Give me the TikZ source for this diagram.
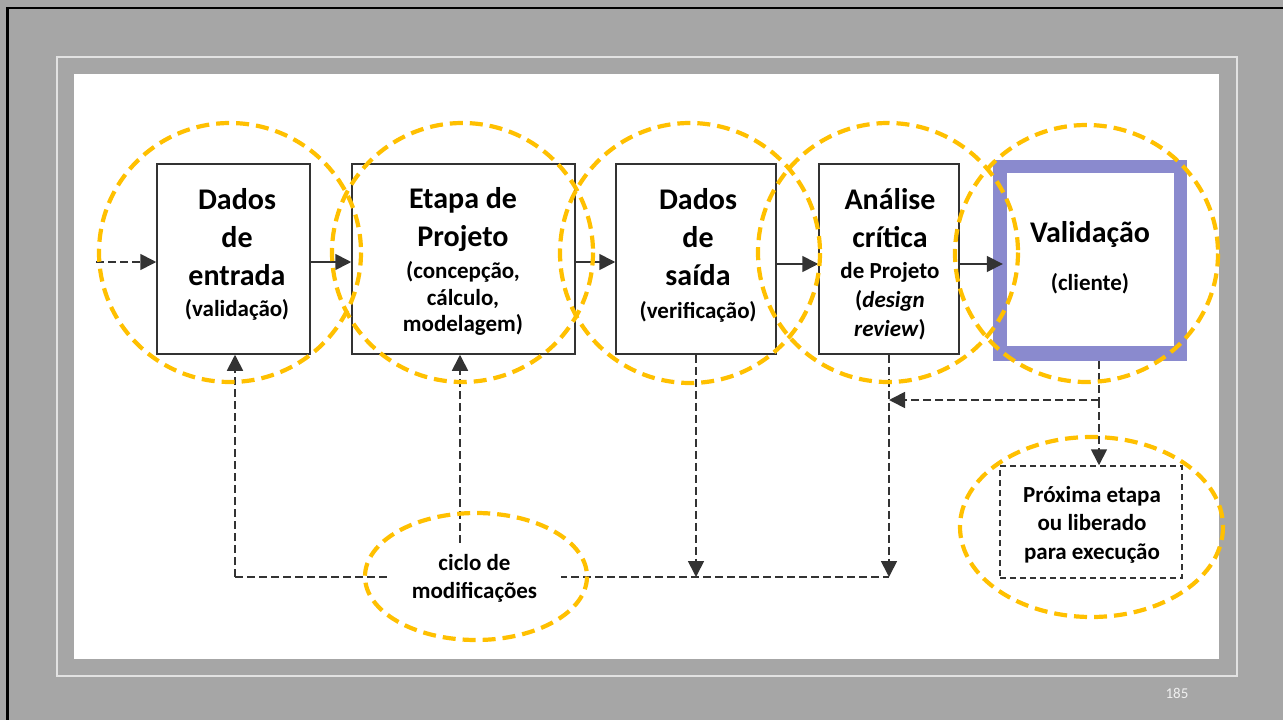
\documentclass[tikz,border=0pt]{standalone}
\usepackage{fontspec}
\setmainfont{Carlito}
\usetikzlibrary{arrows.meta,calc}
\definecolor{slidegray}{HTML}{A6A6A6}
\definecolor{ringcol}{HTML}{FFC000}
\definecolor{lav}{RGB}{138,138,206}
\definecolor{boxline}{HTML}{333333}
\definecolor{frameline}{HTML}{E2E2E2}
\newcommand\smtxt[1]{{\fontsize{23}{28}\selectfont #1}}
\tikzset{
  boxst/.style={draw=boxline, line width=1.5pt, fill=white, inner sep=0pt},
  lbl/.style={align=center, inner sep=0pt, anchor=north, font=\bfseries\fontsize{30}{38}\selectfont},
  lblsm/.style={align=center, inner sep=0pt, font=\bfseries\fontsize{23}{28.5}\selectfont},
  sconn/.style={draw=boxline, line width=1.7pt, -{Triangle[length=16pt,width=16pt]}},
  dconn/.style={sconn, dash pattern=on 8pt off 4pt},
  dline/.style={draw=boxline, line width=1.7pt, dash pattern=on 8pt off 4pt},
  ringst/.style={draw=ringcol, line width=4.2pt, dash pattern=on 13pt off 7pt},
}
\begin{document}
\begin{tikzpicture}[x=1pt,y=-1pt]
\useasboundingbox (0,0) rectangle (1283,720);
\fill[slidegray] (0,0) rectangle (1283,720);
\draw[black, line width=2.5pt] (7.5,720) -- (7.5,8) -- (1283,8);
\draw[frameline, line width=1.2pt] (57,57) rectangle (1237,676);
\fill[white] (74,74) rectangle (1219,659);
\node[text=white!94!black, font=\fontsize{15}{17}\selectfont, anchor=base] (pg) at (1177,698) {185};

% boxes
\node[boxst, minimum width=153, minimum height=190] (b1) at (233.5,259) {};
\node[boxst, minimum width=223, minimum height=190] (b2) at (463.5,259) {};
\node[boxst, minimum width=160, minimum height=190] (b3) at (696,259) {};
\node[boxst, minimum width=140, minimum height=190] (b4) at (889,259) {};
\node[fill=lav, inner sep=0pt, minimum width=194, minimum height=201] (b5) at (1090,260.5) {};
\node[fill=white, inner sep=0pt, minimum width=167, minimum height=173] (b5in) at (1090.5,259.5) {};
\node[draw=boxline, line width=1.5pt, dash pattern=on 6pt off 4pt, inner sep=0pt, minimum width=182, minimum height=112] (prox) at (1091,522) {};

% box texts
\node[lbl] (t1) at (237,188) {Dados\\de\\entrada\\[-7pt]\smtxt{(validação)}};
\node[lbl] (t2) at (463,187) {Etapa de\\Projeto\\[-6pt]\smtxt{(concepção,}\\[-11pt]\smtxt{cálculo,}\\[-12pt]\smtxt{modelagem)}};
\node[lbl] (t3) at (698,188) {Dados\\de\\saída\\[-5pt]\smtxt{(verificação)}};
\node[lbl] (t4) at (890,188) {Análise\\crítica\\[-7pt]\smtxt{de Projeto}\\[-9pt]\smtxt{(\textit{design}}\\[-9pt]\smtxt{\textit{review})}};
\node[lbl] (t5) at (1090,221) {Validação\\[10pt]\smtxt{(cliente)}};
\node[lblsm, anchor=north] (t6) at (1092,486) {Próxima etapa\\ou liberado\\para execução};

% connectors
\coordinate (src) at (96,262);
\draw[dconn] (src) -- (b1.west |- src);
\draw[sconn] (b1.east |- src) -- (b2.west |- src);
\draw[sconn] (b2.east |- src) -- (b3.west |- src);
\coordinate (r4) at (0,264);
\draw[sconn] (b3.east |- r4) -- (b4.west |- r4);
\draw[sconn] (b4.east |- r4) -- ($(b5.west |- r4)+(10,0)$);

\coordinate (bl) at (235,577);
\coordinate (br) at (b4.south |- bl);
\draw[dline] (bl) -- (br);
\draw[dconn] (bl) -- (bl |- b1.south);
\draw[dconn] (b3.south) -- (b3.south |- bl);
\draw[dconn] (b4.south) -- (br);

\coordinate (v5) at (1099,361);
\coordinate (vk) at (1099,400);
\draw[dline] (v5) -- (vk);
\draw[dconn] (vk) -- (b4.south |- vk);
\draw[dconn] (vk) -- (prox.north -| vk);

\node[lblsm, fill=white, minimum width=173, minimum height=71] (ciclo) at (474.5,578.5) {ciclo de\\modificações};
\draw[dconn] (ciclo.north -| 460,0) -- (460,0 |- b2.south);

% orange rings
\draw[ringst] (230,252.5) ellipse [x radius=131, y radius=129.5];
\draw[ringst] (462.5,252.5) ellipse [x radius=130.5, y radius=129.5];
\draw[ringst] (690,253) ellipse [x radius=130, y radius=130];
\draw[ringst] (888,252.5) ellipse [x radius=130, y radius=129.5];
\draw[ringst] (1086.5,253.5) ellipse [x radius=131.5, y radius=128.5];
\draw[ringst] (476,576.5) ellipse [x radius=111, y radius=63.5];
\draw[ringst] (1091.5,527) ellipse [x radius=131.5, y radius=90];
\end{tikzpicture}
\end{document}
